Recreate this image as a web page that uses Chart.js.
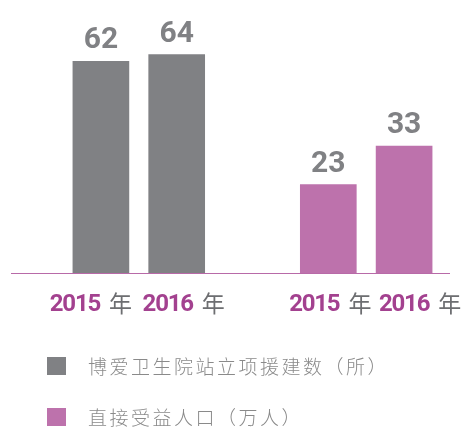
<!DOCTYPE html>
<html><head><meta charset="utf-8">
<script src="https://cdn.jsdelivr.net/npm/chart.js@4/dist/chart.umd.min.js"></script>
<style>html,body{margin:0;padding:0;background:#fff;}#wrap{width:465px;height:430px;}</style>
</head><body><div id="wrap"><canvas id="c" width="465" height="430"></canvas></div>
<script>
// ---- data ----
const categories = ['2015', '2016', '', '2015', '2016'];
const yearSuffix = '年';
const seriesNames = ['博爱卫生院站立项援建数（所）', '直接受益人口（万人）'];
const clinicsFunded = [62, 64, null, null, null];
const beneficiaries = [null, null, null, 23, 33];

// ---- styles ----
const GRAY = '#808184';
const PURPLE = '#bd72ac';
const YEAR_PURPLE = '#a3418f';
const AXIS_PURPLE = '#b86aa8';
const LABEL_SHIFT = [-10, 7, 0, 2, 16];

const decor = {
  id: 'decor',
  afterDatasetsDraw(chart) {
    const ctx = chart.ctx;
    const area = chart.chartArea;
    const xs = chart.scales.x;
    ctx.save();
    // baseline
    ctx.strokeStyle = AXIS_PURPLE;
    ctx.lineWidth = 1;
    ctx.beginPath();
    ctx.moveTo(11, area.bottom + 0.5);
    ctx.lineTo(450, area.bottom + 0.5);
    ctx.stroke();

    // value labels
    ctx.font = 'bold 30px Roboto';
    ctx.fillStyle = GRAY;
    ctx.textAlign = 'center';
    ctx.textBaseline = 'alphabetic';
    chart.data.datasets.forEach((ds, di) => {
      const meta = chart.getDatasetMeta(di);
      meta.data.forEach((el, i) => {
        const v = ds.data[i];
        if (v === null || v === undefined) return;
        ctx.fillText(String(v), el.x, el.y - 13);
      });
    });

    // x labels
    ctx.textAlign = 'left';
    categories.forEach((c, i) => {
      if (!c) return;
      const cx = xs.getPixelForValue(i) + LABEL_SHIFT[i];
      ctx.font = 'bold 24px Roboto';
      ctx.letterSpacing = '-1.2px';
      const w1 = ctx.measureText(c).width;
      ctx.letterSpacing = '0px';
      ctx.font = '23px "Noto Sans CJK SC"';
      const w2 = ctx.measureText(yearSuffix).width;
      const gap = 9;
      const total = w1 + gap + w2;
      const x = cx - total / 2;
      const y = 311;
      ctx.font = 'bold 24px Roboto';
      ctx.letterSpacing = '-1.2px';
      ctx.fillStyle = YEAR_PURPLE;
      ctx.fillText(c, x, y);
      ctx.letterSpacing = '0px';
      ctx.font = '23px "Noto Sans CJK SC"';
      ctx.fillStyle = '#6d6e71';
      ctx.fillText(yearSuffix, x + w1 + gap, y + 1);
    });

    // legend
    const rows = [366, 417];
    chart.data.datasets.forEach((ds, di) => {
      const cy = rows[di];
      ctx.fillStyle = ds.backgroundColor;
      ctx.fillRect(47, cy - 9, 19, 18);
      ctx.font = '300 19px "Noto Sans CJK SC"';
      ctx.letterSpacing = '2.5px';
      ctx.fillStyle = '#8a8a8a';
      ctx.textBaseline = 'middle';
      ctx.fillText(ds.label, 88, cy + 1);
      ctx.letterSpacing = '0px';
      ctx.textBaseline = 'alphabetic';
    });
    ctx.restore();
  }
};

new Chart(document.getElementById('c'), {
  type: 'bar',
  data: {
    labels: categories,
    datasets: [
      { label: seriesNames[0], data: clinicsFunded, backgroundColor: GRAY, yAxisID: 'y', barThickness: 56, grouped: false },
      { label: seriesNames[1], data: beneficiaries, backgroundColor: PURPLE, yAxisID: 'y2', barThickness: 56, grouped: false }
    ]
  },
  options: {
    responsive: false,
    animation: false,
    devicePixelRatio: 1,
    layout: { padding: { left: 63, right: 23, top: 0, bottom: 157 } },
    scales: {
      x: { display: false },
      y: { display: false, min: 0, max: 80 },
      y2: { display: false, min: 0, max: 71 }
    },
    plugins: { legend: { display: false }, tooltip: { enabled: false } }
  },
  plugins: [decor]
});
</script>
</body></html>
